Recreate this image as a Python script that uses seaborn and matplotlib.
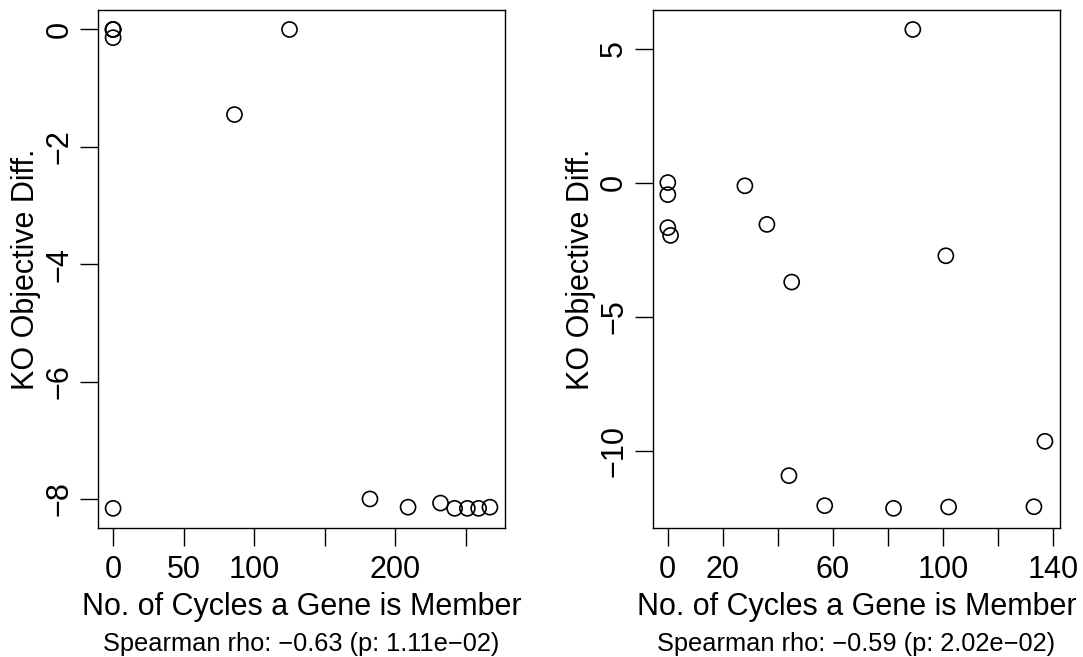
import numpy as np
import pandas as pd
import matplotlib
matplotlib.use("Agg")
import matplotlib.pyplot as plt
import seaborn as sns

# Knock-out objective difference vs. number of cycles a gene belongs to
left_cycles = [0, 0, 0, 0, 86, 125, 0, 182, 209, 232, 242, 251, 259, 267]
left_diff = [0.0, 0.0, 0.0, -0.14, -1.45, 0.0, -8.16, -8.0, -8.14, -8.07,
             -8.16, -8.16, -8.16, -8.14]
left_xticks = [0, 50, 100, 150, 200, 250]
left_xticklabels = ["0", "50", "100", "", "200", ""]
left_yticks = [-8, -6, -4, -2, 0]
left_note = "Spearman rho: \u22120.63 (p: 1.11e\u221202)"

right_cycles = [0, 0, 0, 1, 28, 36, 45, 44, 57, 82, 89, 101, 102, 133, 137]
right_diff = [0.0, -0.45, -1.68, -1.97, -0.12, -1.56, -3.71, -10.93, -12.05,
              -12.15, 5.71, -2.73, -12.1, -12.09, -9.65]
right_xticks = [0, 20, 40, 60, 80, 100, 120, 140]
right_xticklabels = ["0", "20", "", "60", "", "100", "", "140"]
right_yticks = [-10, -5, 0, 5]
right_note = "Spearman rho: \u22120.59 (p: 2.02e\u221202)"

x_label = "No. of Cycles a Gene is Member"
y_label = "KO Objective Diff."

sns.set_style("white")
plt.rcParams["font.family"] = ["Liberation Sans", "DejaVu Sans"]
plt.rcParams["axes.unicode_minus"] = True

fig = plt.figure(figsize=(10.83, 6.57), dpi=100)
ax_l = fig.add_axes([0.0905, 0.1971, 0.3758, 0.7872])
ax_r = fig.add_axes([0.6027, 0.1971, 0.3761, 0.7872])

FS = 22
FS_NOTE = 18.3


def padded(vals):
    lo, hi = min(vals), max(vals)
    ext = 0.04 * (hi - lo)
    return lo - ext, hi + ext


def draw(ax, xs, ys, xticks, xticklabels, yticks, note):
    df = pd.DataFrame({"cycles": xs, "diff": ys})
    sns.scatterplot(data=df, x="cycles", y="diff", ax=ax, marker="o",
                    s=118, facecolor="none", edgecolor="black",
                    linewidth=1.2, legend=False)
    ax.set_xlim(*padded(xs))
    ax.set_ylim(*padded(ys))
    ax.set_xticks(xticks)
    ax.set_xticklabels(xticklabels)
    ax.set_yticks(yticks)
    ax.set_yticklabels([str(v).replace("-", "\u2212") for v in yticks],
                       rotation=90, va="center")
    ax.tick_params(axis="both", direction="out", length=13, width=1.0,
                   color="black", labelsize=FS, labelcolor="black",
                   bottom=True, left=True, top=False, right=False)
    ax.tick_params(axis="x", pad=6.5)
    ax.tick_params(axis="y", pad=4)
    for sp in ax.spines.values():
        sp.set_visible(True)
        sp.set_color("black")
        sp.set_linewidth(1.0)
    ax.set_xlabel(x_label, fontsize=FS, color="black")
    ax.set_ylabel(y_label, fontsize=FS, color="black")
    ax.xaxis.set_label_coords(0.5, -0.124)
    ax.yaxis.set_label_coords(-0.140, 0.5)
    ax.text(0.5, -0.2015, note, transform=ax.transAxes, ha="center",
            va="top", fontsize=FS_NOTE, color="black")


draw(ax_l, left_cycles, left_diff, left_xticks, left_xticklabels,
     left_yticks, left_note)
draw(ax_r, right_cycles, right_diff, right_xticks, right_xticklabels,
     right_yticks, right_note)

fig.savefig("out.png", dpi=100)
